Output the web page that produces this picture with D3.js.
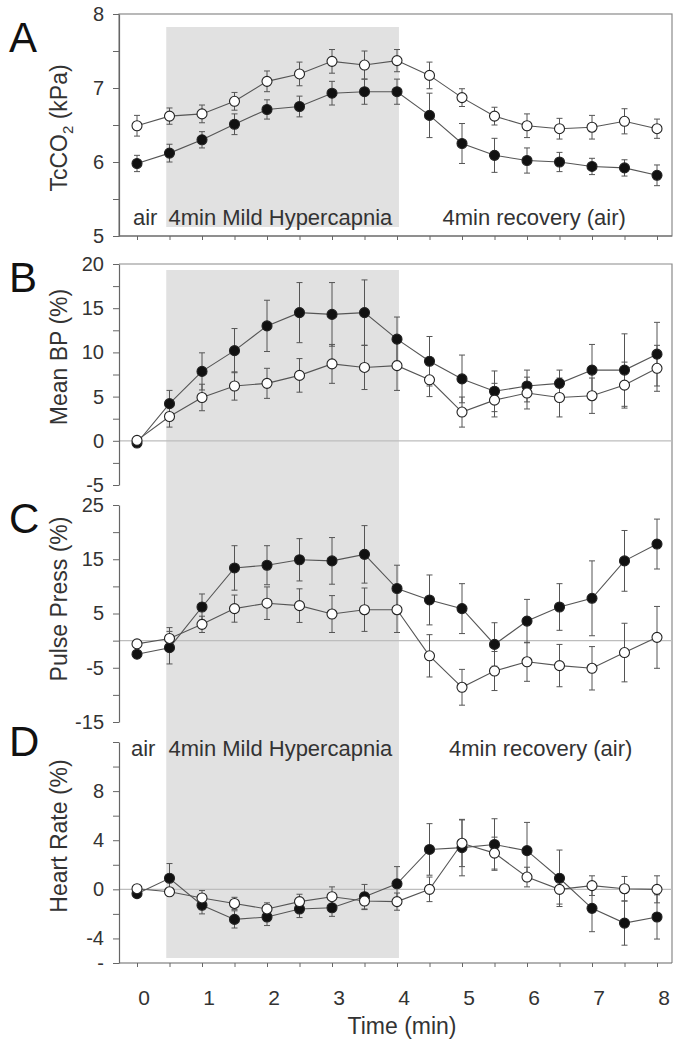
<!DOCTYPE html>
<html><head><meta charset="utf-8">
<script src="https://cdn.jsdelivr.net/npm/d3@7"></script>
<style>body{margin:0;background:#fff}svg{display:block}</style>
</head><body><svg id="c" width="681" height="1039"></svg>
<script>
// ---------- DATA ----------
const timePoints = [0,0.5,1,1.5,2,2.5,3,3.5,4,4.5,5,5.5,6,6.5,7,7.5,8];
const timeLabels = ["0","1","2","3","4","5","6","7","8"];
const timeLabelValues = [0,1,2,3,4,5,6,7,8];
const hypercapniaInterval = [0.45, 4.03];

// A: TcCO2 (kPa)
const tcOpen      = [6.49,6.62,6.65,6.82,7.09,7.19,7.36,7.31,7.37,7.17,6.87,6.62,6.49,6.45,6.47,6.55,6.45];
const tcOpenErr   = [0.14,0.11,0.12,0.12,0.14,0.16,0.16,0.19,0.15,0.18,0.12,0.12,0.16,0.14,0.16,0.17,0.13];
const tcFilled    = [5.98,6.12,6.30,6.51,6.71,6.75,6.93,6.95,6.95,6.63,6.25,6.09,6.02,6.00,5.94,5.92,5.82];
const tcFilledErr = [0.11,0.12,0.11,0.14,0.13,0.14,0.16,0.17,0.17,0.30,0.27,0.23,0.17,0.13,0.11,0.11,0.14];
const tcTicks = [5,5.5,6,6.5,7,7.5,8];
const tcTickLabels = ["5","6","7","8"];

// B: Mean BP (%)
const bpFilled    = [-0.25,4.2,7.85,10.2,13.0,14.5,14.3,14.5,11.5,9.0,7.0,5.6,6.2,6.5,8.0,8.0,9.8];
const bpFilledErr = [0,1.5,2.1,2.5,2.9,3.4,3.6,3.7,2.5,2.8,2.7,2.3,1.8,1.5,2.9,4.1,3.6];
const bpOpen      = [0.05,2.75,4.9,6.2,6.5,7.4,8.7,8.3,8.5,6.9,3.25,4.6,5.4,4.9,5.1,6.3,8.2];
const bpOpenErr   = [0,1.2,1.5,1.6,1.7,1.9,2.2,2.5,2.8,1.9,1.7,1.9,1.8,2.2,2.0,2.6,2.6];
const bpTicks = [-5,-2.5,0,2.5,5,7.5,10,12.5,15,17.5,20];
const bpTickLabels = ["-5","0","5","10","15","20"];

// C: Pulse Press (%)
const ppFilled    = [-2.5,-1.3,6.2,13.4,13.9,14.9,14.7,15.9,9.6,7.5,5.9,-0.7,3.6,6.2,7.8,14.7,17.8];
const ppFilledErr = [0,3.0,2.4,4.1,3.6,3.9,4.3,5.3,4.3,4.6,4.6,4.0,4.0,4.3,6.9,5.6,4.6];
const ppOpen      = [-0.6,0.4,3.0,5.9,6.9,6.45,4.9,5.7,5.7,-2.8,-8.6,-5.6,-3.9,-4.6,-5.1,-2.2,0.6];
const ppOpenErr   = [0,2.0,1.5,2.5,3.0,3.1,3.4,4.0,4.2,3.9,3.3,3.6,3.6,3.9,4.0,5.4,5.7];
const ppTicks = [-15,-10,-5,0,5,10,15,20,25];
const ppTickLabels = ["-15","-5","5","15","25"];

// D: Heart Rate (%)
const hrFilled    = [-0.35,0.9,-1.3,-2.45,-2.25,-1.6,-1.5,-0.6,0.45,3.25,3.4,3.65,3.15,0.9,-1.55,-2.75,-2.25];
const hrFilledErr = [0,1.2,0.7,0.7,0.7,0.7,0.7,1.0,1.4,2.1,2.3,2.1,2.3,2.3,1.9,1.8,1.8];
const hrOpen      = [0.05,-0.2,-0.7,-1.15,-1.6,-1.0,-0.6,-0.95,-1.0,0.0,3.75,2.95,1.0,0.0,0.3,0.05,0.0];
const hrOpenErr   = [0,0,0.6,0.5,0.5,0.6,0.8,0.7,0.7,1.0,1.9,1.3,0.8,1.2,0.8,1.0,1.1];
const hrTicks = [-6,-4,-2,0,2,4,6,8,10,12];
const hrTickLabels = ["-","-4","0","4","8"];
const hrTickLabelValues = [-6,-4,0,4,8];

// ---------- DRAWING ----------
const svg = d3.select("#c");
const FONT = "'Liberation Sans', Arial, sans-serif";
const left = 119, right = 672;
const x = d3.scaleLinear().domain([0,8]).range([137,657]);

const panels = [
  {key:"A", title:["TcCO","2"," (kPa)"], domain:[5,8], range:[236,14], ticks:tcTicks,
   labels:tcTickLabels, labelValues:tcTickLabels.map(Number), filled:tcFilled, fErr:tcFilledErr,
   open:tcOpen, oErr:tcOpenErr, zero:false, letterY:52, titleY:128},
  {key:"B", title:["Mean BP (%)"], domain:[-5,20], range:[485,264], ticks:bpTicks,
   labels:bpTickLabels, labelValues:bpTickLabels.map(Number), filled:bpFilled, fErr:bpFilledErr,
   open:bpOpen, oErr:bpOpenErr, zero:true, letterY:292, titleY:357},
  {key:"C", title:["Pulse Press (%)"], domain:[-15,25], range:[722,505], ticks:ppTicks,
   labels:ppTickLabels, labelValues:ppTickLabels.map(Number), filled:ppFilled, fErr:ppFilledErr,
   open:ppOpen, oErr:ppOpenErr, zero:true, letterY:533, titleY:599},
  {key:"D", title:["Heart Rate (%)"], domain:[-6,12], range:[963,742], ticks:hrTicks,
   labels:hrTickLabels, labelValues:hrTickLabelValues, filled:hrFilled, fErr:hrFilledErr,
   open:hrOpen, oErr:hrOpenErr, zero:true, letterY:756, titleY:836}
];
panels.forEach(p => p.y = d3.scaleLinear().domain(p.domain).range(p.range));

// shading
svg.append("rect").attr("x", x(hypercapniaInterval[0])).attr("width", x(hypercapniaInterval[1]) - x(hypercapniaInterval[0]))
  .attr("y", 27).attr("height", 200).attr("fill", "#e1e1e1");
svg.append("rect").attr("x", x(hypercapniaInterval[0])).attr("width", x(hypercapniaInterval[1]) - x(hypercapniaInterval[0]))
  .attr("y", 270).attr("height", 688).attr("fill", "#e1e1e1");

// frames
const frameColor = "#8a8a8a";
svg.append("rect").attr("x", left).attr("y", 14).attr("width", right-left).attr("height", 222)
  .attr("fill","none").attr("stroke", frameColor).attr("stroke-width", 1.2);
svg.append("path").attr("d", `M${left},264H${right}V963`).attr("fill","none").attr("stroke",frameColor).attr("stroke-width",1.2);

// x axes (A bottom and D bottom)
[236, 963].forEach(yy => {
  const g = svg.append("g").attr("transform", `translate(0,${yy})`)
    .call(d3.axisBottom(x).tickValues(timePoints).tickSize(4).tickSizeOuter(0).tickFormat(""));
  g.select(".domain").attr("d", `M${left},0H${right}`).attr("stroke", "#666").attr("stroke-width",1.2);
  g.selectAll(".tick line").attr("stroke", "#666");
});

panels.forEach(p => {
  const y = p.y;
  if (p.zero) {
    svg.append("line").attr("x1", left).attr("x2", right).attr("y1", y(0)).attr("y2", y(0))
      .attr("stroke", "#bdbdbd").attr("stroke-width", 1.2);
  }
  // left axis
  const labelMap = new Map(p.labelValues.map((v,i)=>[v,p.labels[i]]));
  const g = svg.append("g").attr("transform", `translate(${left},0)`)
    .call(d3.axisLeft(y).tickValues(p.ticks).tickSize(6).tickSizeOuter(0).tickPadding(9)
      .tickFormat(d => labelMap.has(d) ? labelMap.get(d) : ""));
  g.select(".domain").attr("stroke", "#666").attr("stroke-width", 1.2);
  g.selectAll(".tick line").attr("stroke", "#666");
  g.selectAll(".tick text").attr("font-family", FONT).attr("font-size", 20).attr("fill", "#333");

  const series = [
    {vals:p.filled, err:p.fErr, fill:"#111"},
    {vals:p.open, err:p.oErr, fill:"#fff"}
  ];
  series.forEach(s => {
    const pts = timePoints.map((t,i)=>({t, v:s.vals[i], e:s.err[i]}));
    svg.append("path").datum(pts)
      .attr("d", d3.line().x(d=>x(d.t)).y(d=>y(d.v)))
      .attr("fill","none").attr("stroke","#555").attr("stroke-width",1.1);
    const eg = svg.append("g").attr("stroke","#555").attr("stroke-width",1);
    pts.filter(d=>d.e>0).forEach(d => {
      eg.append("line").attr("x1",x(d.t)).attr("x2",x(d.t)).attr("y1",y(d.v-d.e)).attr("y2",y(d.v+d.e));
      eg.append("line").attr("x1",x(d.t)-3).attr("x2",x(d.t)+3).attr("y1",y(d.v+d.e)).attr("y2",y(d.v+d.e));
      eg.append("line").attr("x1",x(d.t)-3).attr("x2",x(d.t)+3).attr("y1",y(d.v-d.e)).attr("y2",y(d.v-d.e));
    });
    s.pts = pts;
  });
  series.forEach(s => {
    svg.append("g").selectAll("circle").data(s.pts).join("circle")
      .attr("cx", d=>x(d.t)).attr("cy", d=>y(d.v)).attr("r", 5)
      .attr("fill", s.fill).attr("stroke", "#222").attr("stroke-width", 1.1);
  });

  // panel letter
  svg.append("text").attr("x", 9).attr("y", p.letterY).text(p.key)
    .attr("font-family", FONT).attr("font-size", 42).attr("fill", "#111");
  // title
  const t = svg.append("text").attr("transform", `translate(67,${p.titleY}) rotate(-90)`)
    .attr("text-anchor","middle").attr("font-family", FONT).attr("font-size", 23).attr("fill","#333");
  if (p.title.length === 3) {
    t.append("tspan").text(p.title[0]);
    t.append("tspan").text(p.title[1]).attr("font-size", 15).attr("dy", 6);
    t.append("tspan").text(p.title[2]).attr("dy", -6);
  } else t.text(p.title[0]);
});

// condition annotations
const ann = [
  {txt:"air", t:0, dy:225, dx:-4},
  {txt:"4min Mild Hypercapnia", t:0.5, dy:225, dx:-1},
  {txt:"4min recovery (air)", t:4.7, dy:225, dx:0},
  {txt:"air", t:0, dy:756, dx:-6},
  {txt:"4min Mild Hypercapnia", t:0.5, dy:756, dx:-1},
  {txt:"4min recovery (air)", t:4.8, dy:756, dx:0}
];
ann.forEach(a => svg.append("text").attr("x", x(a.t)+a.dx).attr("y", a.dy).text(a.txt)
  .attr("font-family", FONT).attr("font-size", 22).attr("fill","#333"));

// x tick labels
svg.append("g").selectAll("text").data(timeLabelValues).join("text")
  .attr("x", d=>x(d)+7).attr("y", 1005).attr("text-anchor","middle")
  .attr("font-family", FONT).attr("font-size", 21).attr("fill","#333")
  .text((d,i)=>timeLabels[i]);
svg.append("text").attr("x", 402).attr("y", 1034).attr("text-anchor","middle")
  .attr("font-family", FONT).attr("font-size", 23).attr("fill","#333").text("Time (min)");
</script></body></html>
